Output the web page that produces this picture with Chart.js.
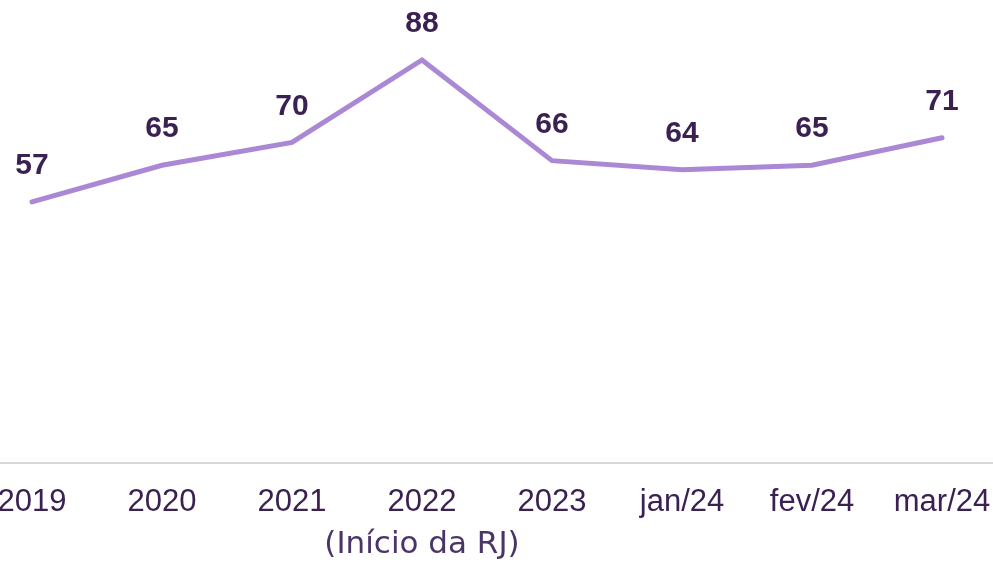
<!DOCTYPE html>
<html>
<head>
<meta charset="utf-8">
<script src="https://cdn.jsdelivr.net/npm/chart.js@4"></script>
<style>
  html, body { margin: 0; padding: 0; background: #fff; overflow: hidden; }
  #wrap { position: absolute; left: -33px; top: 0; width: 1040px; height: 563px; }
</style>
</head>
<body>
<div id="wrap"><canvas id="chart"></canvas></div>
<script>
const periods   = ["2019", "2020", "2021", "2022", "2023", "jan/24", "fev/24", "mar/24"];
const subLabels = ["", "", "", "(Início da RJ)", "", "", "", ""];
const values    = [57, 65, 70, 88, 66, 64, 65, 71];

const darkPurple = "#3a2152";
const linePurple = "#ab88d5";

// value labels above each point
const valueLabels = {
    id: "valueLabels",
    afterDatasetsDraw(chart) {
        const ctx = chart.ctx;
        const meta = chart.getDatasetMeta(0);
        ctx.save();
        ctx.font = "bold 30px 'Liberation Sans', Arial, sans-serif";
        ctx.fillStyle = darkPurple;
        ctx.textAlign = "center";
        ctx.textBaseline = "middle";
        meta.data.forEach((pt, i) => {
            ctx.fillText(String(values[i]), pt.x, pt.y - 36);
        });
        ctx.restore();
    }
};

// second line under a category label, in a lighter font
const subTicks = {
    id: "subTicks",
    afterDraw(chart) {
        const ctx = chart.ctx;
        const x = chart.scales.x;
        ctx.save();
        ctx.font = "31px 'DejaVu Sans', sans-serif";
        ctx.fillStyle = "#4b3468";
        ctx.textAlign = "center";
        ctx.textBaseline = "middle";
        subLabels.forEach((s, i) => {
            if (s) ctx.fillText(s, x.getPixelForValue(i), 545);
        });
        ctx.restore();
    }
};

new Chart(document.getElementById("chart"), {
    type: "line",
    data: {
        labels: periods,
        datasets: [{
            data: values,
            borderColor: linePurple,
            borderWidth: 5,
            borderCapStyle: "round",
            pointRadius: 0,
            tension: 0,
            fill: false
        }]
    },
    options: {
        responsive: true,
        maintainAspectRatio: false,
        animation: false,
        layout: { padding: { top: 5, bottom: 29, left: 0, right: 0 } },
        plugins: { legend: { display: false }, tooltip: { enabled: false } },
        scales: {
            x: {
                offset: true,
                grid: { display: false },
                border: { display: true, color: "#d9d9d9", width: 2 },
                ticks: {
                    color: darkPurple,
                    padding: 13,
                    maxRotation: 0,
                    autoSkip: false,
                    font: { family: "'Liberation Sans', Arial, sans-serif", size: 31 }
                }
            },
            y: {
                display: false,
                min: 0,
                max: 100
            }
        }
    },
    plugins: [valueLabels, subTicks]
});
</script>
</body>
</html>
